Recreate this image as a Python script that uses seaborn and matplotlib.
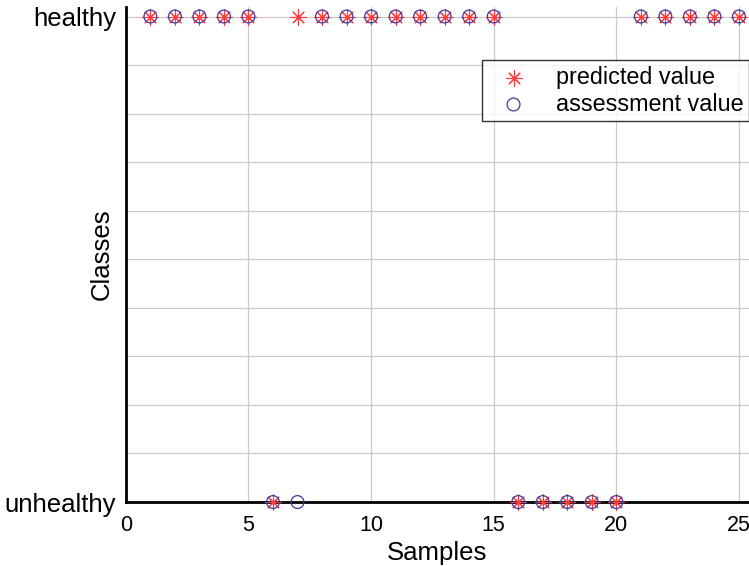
import matplotlib
matplotlib.use("Agg")
import matplotlib.pyplot as plt
import numpy as np
import pandas as pd
import seaborn as sns
from matplotlib.ticker import MultipleLocator, FixedLocator

samples = list(range(1, 26))
# 1 = healthy, 0 = unhealthy
predicted = [1, 1, 1, 1, 1, 0, 1, 1, 1, 1, 1, 1, 1, 1, 1,
             0, 0, 0, 0, 0, 1, 1, 1, 1, 1]
assessed = [1, 1, 1, 1, 1, 0, 0, 1, 1, 1, 1, 1, 1, 1, 1,
            0, 0, 0, 0, 0, 1, 1, 1, 1, 1]
class_labels = ["unhealthy", "healthy"]

df = pd.DataFrame({"sample": samples, "predicted": predicted, "assessed": assessed})

sns.set_style("white")
plt.rcParams["font.family"] = ["Liberation Sans", "DejaVu Sans"]
plt.rcParams["text.color"] = "black"
plt.rcParams["axes.labelcolor"] = "black"
plt.rcParams["xtick.color"] = "black"
plt.rcParams["ytick.color"] = "black"

fig = plt.figure(figsize=(7.49, 5.66), dpi=100)
ax = fig.add_axes([0.168, 0.113, 0.832, 0.875])

sns.scatterplot(data=df, x="sample", y="predicted", ax=ax, marker=(8, 2, 0),
                s=120, color="#ff3a3a", linewidth=0.8, label="predicted value",
                clip_on=False, zorder=4)
sns.scatterplot(data=df, x="sample", y="assessed", ax=ax, marker="o",
                s=85, facecolor="none", edgecolor="#3a3aa0", linewidth=0.9,
                label="assessment value", clip_on=False, zorder=5)

ax.set_xlim(0, 25.41)
ax.set_ylim(0, 1.02)

ax.xaxis.set_major_locator(MultipleLocator(5))
ax.xaxis.set_minor_locator(MultipleLocator(2.5))
ax.yaxis.set_major_locator(FixedLocator([0, 1]))
ax.set_yticklabels(class_labels)
ax.yaxis.set_minor_locator(FixedLocator(np.arange(0.1, 1.0, 0.1)))

ax.grid(True, which="major", axis="x", color="#cfcaca", linewidth=0.9)
ax.grid(True, which="both", axis="y", color="#cfcaca", linewidth=0.9)

ax.tick_params(axis="x", which="major", direction="in", length=10, width=1.5,
               labelsize=15.5, pad=9)
ax.tick_params(axis="x", which="minor", direction="in", length=5, width=1.5)
ax.tick_params(axis="y", which="major", direction="in", length=5, width=1.5,
               labelsize=18.5, pad=7)
ax.tick_params(axis="y", which="minor", direction="in", length=5, width=1.5)

for side in ["top", "right"]:
    ax.spines[side].set_visible(False)
for side in ["left", "bottom"]:
    ax.spines[side].set_color("black")
    ax.spines[side].set_linewidth(2)

ax.set_xlabel("Samples", fontsize=18.5, labelpad=4)
ax.set_ylabel("Classes", fontsize=18.5)
ax.yaxis.set_label_coords(-0.02, 0.5)

leg = ax.legend(loc="upper right", bbox_to_anchor=(1.0, 0.892), fontsize=16.8,
                frameon=True, fancybox=False, borderpad=0.25, handletextpad=0.7,
                handlelength=2.2, labelspacing=0.15, borderaxespad=0.0)
leg.get_frame().set_edgecolor("black")
leg.get_frame().set_linewidth(1.0)

fig.savefig("out.png", dpi=100)
